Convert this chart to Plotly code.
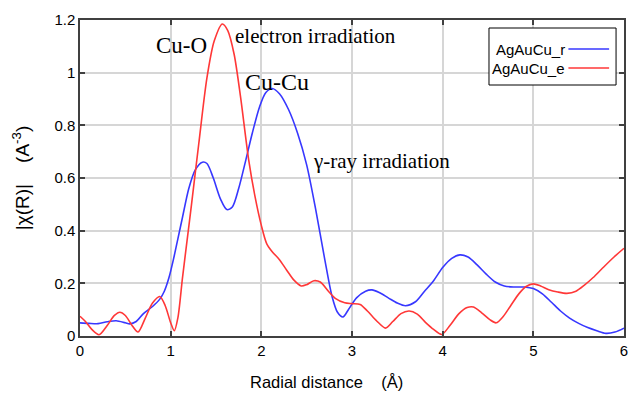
import plotly.graph_objects as go

# AgAuCu_r (gamma-ray irradiation)
r_x = [0.00, 0.10, 0.20, 0.30, 0.40, 0.50, 0.55, 0.62, 0.70, 0.80, 0.88, 0.93, 0.98, 1.03, 1.08, 1.13,
       1.20, 1.27, 1.35, 1.40, 1.47, 1.55, 1.62, 1.68, 1.75, 1.83, 1.90, 1.98, 2.05, 2.12, 2.20,
       2.30, 2.40, 2.50, 2.60, 2.70, 2.78, 2.84, 2.90, 2.96, 3.05, 3.15, 3.22, 3.30, 3.40, 3.50,
       3.59, 3.70, 3.80, 3.90, 4.00, 4.10, 4.19, 4.28, 4.38, 4.48, 4.58, 4.68, 4.78, 4.90, 5.00,
       5.10, 5.20, 5.30, 5.40, 5.50, 5.60, 5.70, 5.80, 5.90, 6.00]
r_y = [0.050, 0.048, 0.047, 0.054, 0.058, 0.050, 0.046, 0.055, 0.085, 0.112, 0.140, 0.170, 0.220, 0.290, 0.370, 0.450,
       0.560, 0.630, 0.660, 0.655, 0.600, 0.520, 0.480, 0.490, 0.560, 0.670, 0.770, 0.870, 0.925, 0.940, 0.920,
       0.860, 0.770, 0.650, 0.480, 0.290, 0.150, 0.090, 0.072, 0.100, 0.145, 0.170, 0.175, 0.165, 0.145, 0.125,
       0.115, 0.130, 0.170, 0.210, 0.260, 0.295, 0.308, 0.300, 0.270, 0.235, 0.205, 0.190, 0.186, 0.186, 0.180,
       0.160, 0.128, 0.095, 0.068, 0.048, 0.032, 0.020, 0.010, 0.015, 0.030]

# AgAuCu_e (electron irradiation)
e_x = [0.00, 0.06, 0.13, 0.21, 0.30, 0.38, 0.44, 0.50, 0.57, 0.64, 0.72, 0.80, 0.88, 0.94, 1.00, 1.04,
       1.08, 1.13, 1.18, 1.23, 1.31, 1.40, 1.48, 1.57, 1.63, 1.70, 1.77, 1.86, 1.93, 2.00, 2.06,
       2.12, 2.20, 2.28, 2.36, 2.44, 2.50, 2.58, 2.65, 2.74, 2.82, 2.92, 3.00, 3.09, 3.17, 3.27,
       3.37, 3.45, 3.54, 3.63, 3.72, 3.81, 3.90, 3.99, 4.08, 4.18, 4.27, 4.34, 4.43, 4.52, 4.59,
       4.67, 4.75, 4.84, 4.92, 5.00, 5.08, 5.17, 5.27, 5.37, 5.47, 5.56, 5.66, 5.77, 5.89, 6.00]
e_y = [0.075, 0.055, 0.025, 0.005, 0.040, 0.078, 0.090, 0.078, 0.042, 0.015, 0.068, 0.125, 0.150, 0.115, 0.050, 0.020,
       0.070, 0.220, 0.360, 0.500, 0.730, 0.980, 1.120, 1.185, 1.160, 1.070, 0.910, 0.670, 0.530, 0.420, 0.350,
       0.320, 0.290, 0.250, 0.212, 0.190, 0.195, 0.210, 0.205, 0.170, 0.142, 0.126, 0.123, 0.120, 0.095, 0.058,
       0.030, 0.055, 0.085, 0.095, 0.083, 0.052, 0.025, 0.006, 0.040, 0.085, 0.108, 0.110, 0.088, 0.062, 0.050,
       0.075, 0.115, 0.160, 0.188, 0.198, 0.190, 0.176, 0.167, 0.162, 0.170, 0.192, 0.222, 0.260, 0.300, 0.333]

x_ticks = [0, 1, 2, 3, 4, 5, 6]
y_ticks = [0, 0.2, 0.4, 0.6, 0.8, 1, 1.2]
y_tick_text = ["0", "0.2", "0.4", "0.6", "0.8", "1", "1.2"]

series_names = ["AgAuCu_r", "AgAuCu_e"]
blue = "rgb(55,55,255)"
red = "rgb(255,55,55)"

fig = go.Figure()
fig.add_trace(go.Scatter(x=r_x, y=r_y, mode="lines", name=series_names[0],
                         line=dict(color=blue, width=1.6, shape="spline", smoothing=0.8)))
fig.add_trace(go.Scatter(x=e_x, y=e_y, mode="lines", name=series_names[1],
                         line=dict(color=red, width=1.6, shape="spline", smoothing=0.8)))

serif = "Liberation Serif"
sans = "Liberation Sans"

annotations = [
    dict(x=1.12, y=1.105, text="Cu-O", font=dict(family=serif, size=23, color="black"),
         showarrow=False, xanchor="center", yanchor="middle"),
    dict(x=1.69, y=1.14, text="electron irradiation", font=dict(family=serif, size=21, color="black"),
         showarrow=False, xanchor="left", yanchor="middle"),
    dict(x=2.17, y=0.965, text="Cu-Cu", font=dict(family=serif, size=24, color="black"),
         showarrow=False, xanchor="center", yanchor="middle"),
    dict(x=2.55, y=0.665, text="γ-ray irradiation", font=dict(family=serif, size=21, color="black"),
         showarrow=False, xanchor="left", yanchor="middle"),
]

# helpers to place layout items (legend, x title) in paper space
def px2paper_x(px):
    return (px - 80) / 548.0

def px2paper_y(py):
    return (336 - py) / 316.0

# x-axis title (slightly left of centre, as in the reference)
annotations.append(dict(xref="paper", yref="paper", x=px2paper_x(328), y=px2paper_y(382),
                        text="Radial distance\u00a0\u00a0\u00a0\u00a0(Å)", showarrow=False,
                        xanchor="center", yanchor="middle",
                        font=dict(family=sans, size=16.5, color="black")))

# custom legend (text left, sample right)
shapes = [
    dict(type="rect", xref="paper", yref="paper",
         x0=px2paper_x(492), x1=px2paper_x(620), y0=px2paper_y(85), y1=px2paper_y(28),
         line=dict(color="black", width=1), fillcolor="white", layer="above"),
]
for i, (name, col) in enumerate(zip(series_names, [blue, red])):
    yy = px2paper_y(49 + 19 * i)
    shapes.append(dict(type="line", xref="paper", yref="paper",
                       x0=px2paper_x(572), x1=px2paper_x(613), y0=yy, y1=yy,
                       line=dict(color=col, width=1.6), layer="above"))
    annotations.append(dict(xref="paper", yref="paper", x=px2paper_x(571), y=yy, text=name,
                            showarrow=False, xanchor="right", yanchor="middle",
                            font=dict(family=sans, size=15, color="black")))

fig.update_layout(
    width=634, height=394,
    margin=dict(l=80, r=6, t=20, b=58),
    paper_bgcolor="white", plot_bgcolor="white",
    showlegend=False,
    annotations=annotations,
    shapes=shapes,
    font=dict(family=sans, size=14, color="black"),
)
fig.update_xaxes(range=[0, 6], tickvals=x_ticks, ticktext=[str(v) for v in x_ticks],
                 showgrid=True, gridcolor="#d6d6d6", gridwidth=1.5,
                 showline=True, linecolor="#404040", linewidth=1.5, mirror="ticks",
                 ticks="inside", ticklen=5, tickcolor="#404040", tickwidth=1.5,
                 zeroline=False, tickfont=dict(family=sans, size=15))
fig.update_yaxes(range=[0, 1.2], tickvals=y_ticks, ticktext=y_tick_text,
                 showgrid=True, gridcolor="#d6d6d6", gridwidth=1.5,
                 showline=True, linecolor="#404040", linewidth=1.5, mirror="ticks",
                 ticks="inside", ticklen=5, tickcolor="#404040", tickwidth=1.5,
                 zeroline=False, tickfont=dict(family=sans, size=15),
                 title=dict(text="|χ(R)|\u00a0\u00a0\u00a0\u00a0(A<sup>-3</sup>)", font=dict(family=sans, size=19), standoff=20))

fig.write_html("out.html")
